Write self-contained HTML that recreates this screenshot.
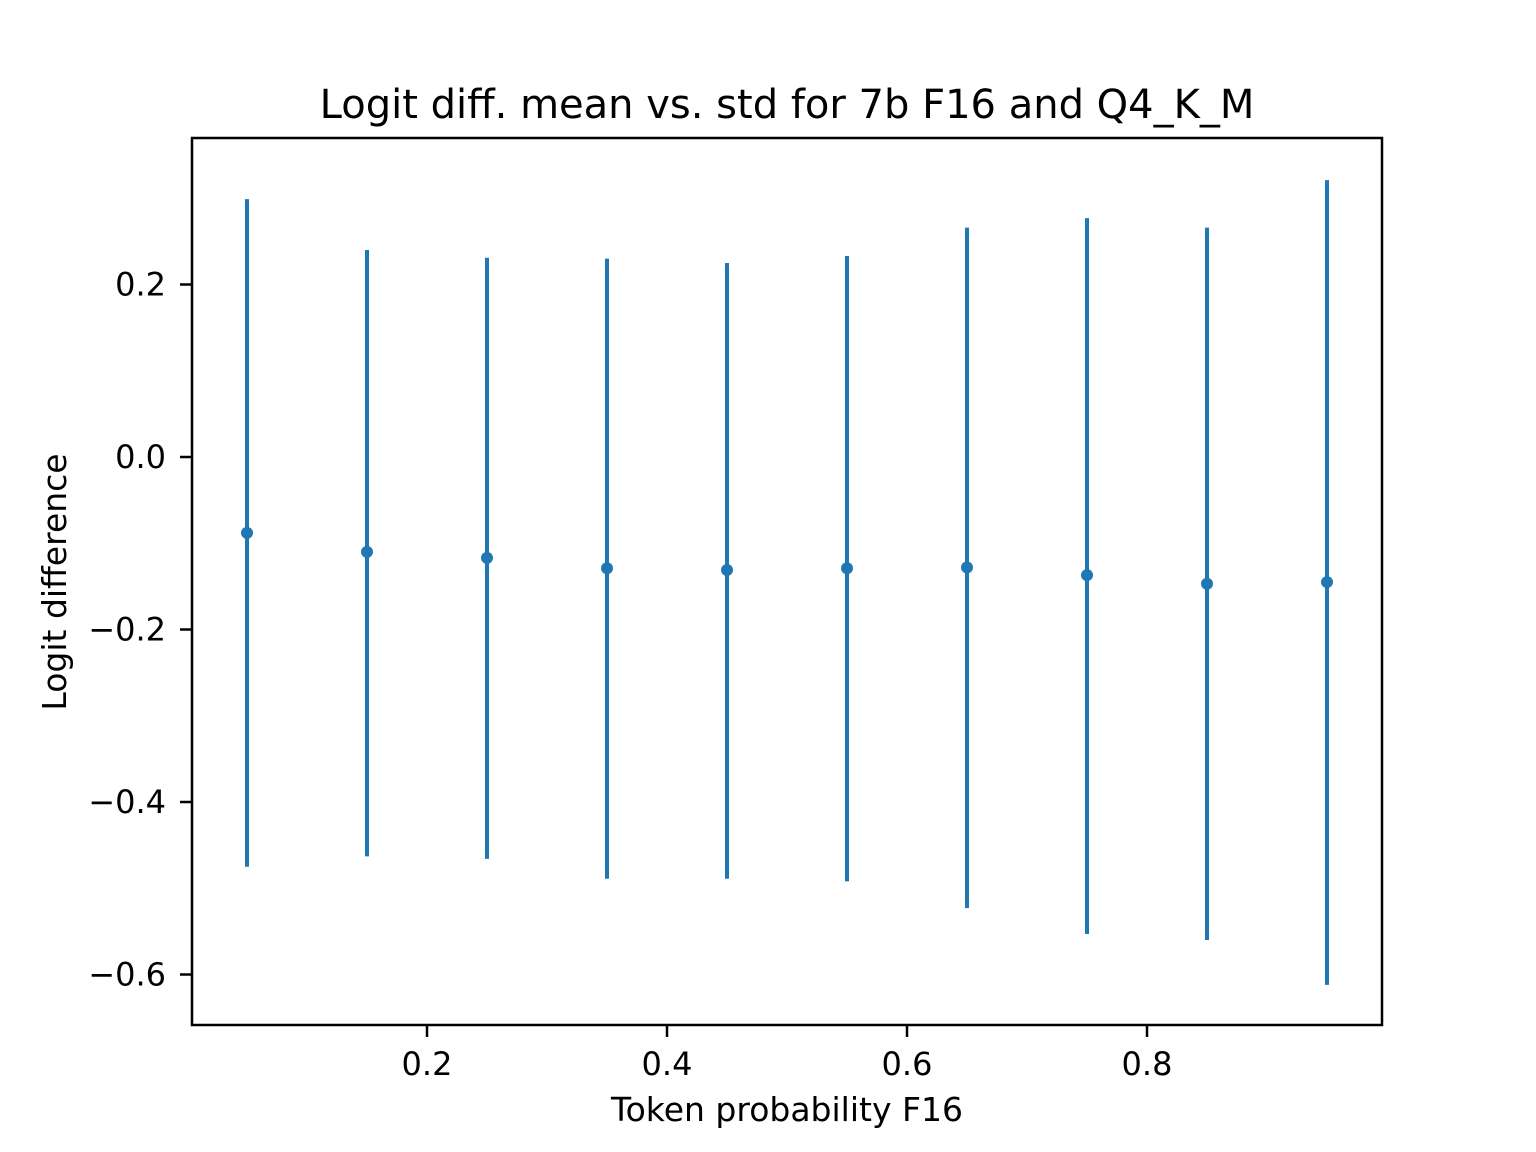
<!DOCTYPE html>
<html><head><meta charset="utf-8"><style>
html,body{margin:0;padding:0;background:#fff;}
svg{display:block;font-family:"DejaVu Sans","Liberation Sans",sans-serif;}
</style></head><body>
<svg id="chart" width="1536" height="1152" viewBox="0 0 1536 1152">
<rect width="1536" height="1152" fill="#fff"/>
<text x="787" y="118" font-size="40" text-anchor="middle" fill="#000">Logit diff. mean vs. std for 7b F16 and Q4_K_M</text>
<g id="marks"></g>
<g id="xticks"></g>
<g id="yticks"></g>
<rect x="192" y="138" width="1190" height="887" fill="none" stroke="#000" stroke-width="2.5"/>
<text x="787" y="1121" font-size="33" text-anchor="middle">Token probability F16</text>
<text transform="translate(66,582) rotate(-90)" font-size="33" text-anchor="middle">Logit difference</text>
</svg>
<script>
const xs = [0.05,0.15,0.25,0.35,0.45,0.55,0.65,0.75,0.85,0.95];
const means = [-0.088,-0.110,-0.117,-0.129,-0.131,-0.129,-0.128,-0.137,-0.147,-0.145];
const highs = [0.299,0.240,0.231,0.230,0.225,0.233,0.266,0.277,0.266,0.321];
const lows = [-0.475,-0.463,-0.466,-0.489,-0.489,-0.492,-0.523,-0.553,-0.560,-0.612];
const xTickVals = [0.2,0.4,0.6,0.8];
const xTickLabels = ["0.2","0.4","0.6","0.8"];
const yTickVals = [0.2,0.0,-0.2,-0.4,-0.6];
const yTickLabels = ["0.2","0.0","\u22120.2","\u22120.4","\u22120.6"];

const NS="http://www.w3.org/2000/svg";
function X(v){return 187+v*1200;}
function Y(v){return 457-v*862.5;}
function mk(tag,attrs,parent){const e=document.createElementNS(NS,tag);for(const k in attrs)e.setAttribute(k,attrs[k]);parent.appendChild(e);return e;}
const marks=document.getElementById('marks');
xs.forEach((x,i)=>{
  const l=mk('line',{x1:X(x),x2:X(x),y1:Y(highs[i]),y2:Y(lows[i]),stroke:'#1f77b4','stroke-width':4},marks);
  
  
  const c=mk('circle',{cx:X(x),cy:Y(means[i]),r:6,fill:'#1f77b4'},marks);
  
  
});
const xt=document.getElementById('xticks');
xTickVals.forEach((v,i)=>{
  const t=mk('line',{x1:X(v),x2:X(v),y1:1025,y2:1037,stroke:'#000','stroke-width':2.5},xt);
  
  
  const s=mk('text',{x:X(v),y:1075,'font-size':32,'text-anchor':'middle'},xt);
  s.textContent=xTickLabels[i];
  
  
});
const yt=document.getElementById('yticks');
yTickVals.forEach((v,i)=>{
  const t=mk('line',{x1:180,x2:192,y1:Y(v),y2:Y(v),stroke:'#000','stroke-width':2.5},yt);
  
  
  const s=mk('text',{x:166,y:Y(v)+11,'font-size':32,'text-anchor':'end'},yt);
  s.textContent=yTickLabels[i];
  
  
});
</script>
</body></html>
